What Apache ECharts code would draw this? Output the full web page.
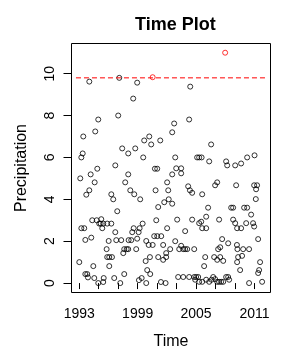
<!DOCTYPE html>
<html>
<head>
<meta charset="utf-8">
<script src="https://cdn.jsdelivr.net/npm/echarts@6/dist/echarts.min.js"></script>
<style>html,body{margin:0;padding:0;background:#fff}#c{width:300px;height:350px}</style>
</head>
<body>
<div id="c"></div>
<script>
// Time (decimal year) and precipitation values
const years = [
1994.03,1997.11,1998.95,2000.54,1998.54,1997.00,1994.95,1994.64,1993.41,2000.19,
1999.67,2001.32,2000.39,1997.41,1998.75,1998.03,1993.35,1993.21,1999.57,1994.85,
1996.70,2000.77,2001.01,2007.99,2004.40,2004.29,2002.75,2002.55,2006.55,2002.86,
2005.11,2005.32,2005.57,2006.35,2008.09,2008.20,2009.02,2009.63,2010.25,2011.01,
2002.96,2003.47,1994.17,1993.10,1998.03,1994.58,1997.72,2002.03,1994.03,1993.72,
1998.24,1998.65,1999.26,2000.84,2002.14,1996.29,1996.49,2002.19,2001.73,2001.11,
1996.90,1994.33,1994.79,1995.26,1995.05,1995.20,1995.46,1995.87,1996.29,1995.36,
1993.21,1993.51,2000.91,1999.51,1998.59,1999.20,1998.44,1999.10,2002.03,1996.70,
1993.62,1994.23,1996.02,1996.80,1997.31,1998.07,1998.34,1998.95,2000.70,2001.01,
2001.42,1999.88,2000.13,2000.54,2001.62,1995.81,1997.62,1997.87,1998.03,1998.85,
1997.52,2002.34,1995.87,1996.08,1996.36,1999.82,2000.26,2001.11,2001.62,2001.93,
1993.00,1994.44,1996.08,1999.98,1993.62,1993.82,1993.89,1994.54,1995.51,1996.59,
1997.62,1999.41,1999.13,2000.29,1994.95,1995.46,1997.21,1999.88,2001.39,2001.87,
2003.47,2002.55,2004.19,2004.37,2004.60,2005.63,2006.96,2007.17,2009.12,2010.97,
2011.27,2011.17,2011.14,2002.55,2006.24,2008.61,2008.81,2009.94,2010.25,2003.06,
2004.60,2007.37,2010.66,2006.04,2005.32,2005.53,2006.04,2005.63,2008.81,2009.02,
2009.22,2009.63,2010.15,2010.86,2010.97,2003.88,2007.68,2008.30,2011.38,2002.86,
2003.27,2003.47,2003.68,2003.88,2004.09,2004.81,2007.27,2007.48,2009.20,2009.25,
2009.84,2010.45,2001.93,2005.94,2006.86,2007.17,2007.48,2007.79,2005.83,2009.32,
2009.73,2009.22,2011.58,2009.53,2011.38,2011.48,2003.16,2003.68,2004.29,2004.81,
2005.01,2005.22,2004.91,2005.32,2005.63,2006.04,2006.35,2006.59,2006.76,2007.17,
2007.37,2007.58,2007.79,2006.96,2008.09,2008.30,2008.40,2010.45,2011.79
];
const precip = [
9.62,9.80,9.57,9.83,8.81,8.00,7.81,7.24,7.00,7.00,
6.81,6.81,6.62,6.43,6.43,6.19,6.19,6.00,6.00,5.46,
5.62,5.46,5.46,11.00,9.38,7.81,7.62,7.20,6.62,6.00,
6.00,6.00,6.00,5.81,5.81,5.62,5.62,5.71,6.00,6.10,
5.48,5.48,5.19,5.00,5.19,4.81,4.81,4.81,4.43,4.22,
4.43,4.24,4.00,4.43,4.43,4.24,4.00,4.00,3.86,3.63,
3.43,3.00,3.00,3.05,2.84,2.84,2.84,2.84,2.84,2.62,
2.62,2.62,3.00,2.84,2.62,2.62,2.43,2.43,2.62,2.43,
2.06,2.17,2.01,2.05,2.05,2.05,2.05,2.12,2.24,2.24,
2.24,2.01,1.82,1.82,1.82,1.62,1.62,1.62,1.62,1.62,
1.43,1.62,1.24,1.24,1.24,1.05,1.24,1.24,1.11,1.24,
1.00,0.81,0.81,0.62,0.43,0.43,0.27,0.24,0.24,0.24,
0.43,0.24,0.14,0.43,0.00,0.05,0.00,0.00,0.05,0.00,
5.24,5.19,4.62,4.43,4.31,4.24,4.67,4.81,4.67,4.67,
4.67,4.48,4.01,3.79,3.60,3.60,3.60,3.60,3.60,3.03,
3.03,3.03,3.27,3.17,2.86,2.93,2.62,2.62,3.03,2.86,
2.62,2.62,2.86,2.86,2.70,2.48,2.10,1.90,2.10,2.00,
1.62,1.78,1.62,1.62,1.62,1.62,1.62,1.71,1.82,1.62,
1.62,1.62,1.43,1.24,1.24,1.11,1.24,1.06,0.81,1.24,
1.30,1.00,1.00,0.62,0.48,0.62,0.29,0.29,0.29,0.29,
0.29,0.29,0.16,0.06,0.06,0.16,0.06,0.16,0.29,0.06,
0.06,0.06,0.06,0.19,0.29,0.29,0.16,0.00,0.06
];
const threshold = 9.8;
const thresholdSpan = [1992.66, 2012.24];
const xTickValues = [1993,1995,1997,1999,2001,2003,2005,2007,2009,2011];
const xLabelValues = [1993,1999,2005,2011];
const yTickValues = [0,2,4,6,8,10];

const X_MIN = 1992.2, X_MAX = 2012.65, Y_MIN = -0.45, Y_MAX = 11.44;

const below = [], above = [];
years.forEach((y, i) => {
  (precip[i] > threshold ? above : below).push([y, precip[i]]);
});

const FONT = '"Liberation Sans", Arial, sans-serif';
const chart = echarts.init(document.getElementById('c'), null, {renderer: 'canvas'});
chart.setOption({
  animation: false,
  backgroundColor: '#fff',
  title: {
    text: 'Time Plot',
    left: 130, top: 11,
    textStyle: {fontFamily: FONT, fontSize: 18, fontWeight: 'bold', color: '#000'}
  },
  grid: {left: 71.5, top: 43.5, right: 29.5, bottom: 57.5, show: true, borderColor: '#000', borderWidth: 1, backgroundColor: 'transparent'},
  xAxis: {
    type: 'value', min: X_MIN, max: X_MAX,
    axisLine: {show: false},
    axisTick: {show: true, length: 6, customValues: xTickValues, lineStyle: {color: '#000', width: 1}},
    axisLabel: {show: false},
    splitLine: {show: false}
  },
  yAxis: {
    type: 'value', min: Y_MIN, max: Y_MAX,
    name: 'Precipitation', nameLocation: 'middle', nameGap: 42,
    nameTextStyle: {fontFamily: FONT, fontSize: 16, color: '#000'},
    axisLine: {show: false},
    axisTick: {show: true, length: 8, customValues: yTickValues, lineStyle: {color: '#000', width: 1}},
    axisLabel: {show: false},
    splitLine: {show: false}
  },
  series: [
    {
      type: 'line', data: thresholdSpan.map(x => [x, threshold]),
      symbol: 'none', silent: true,
      lineStyle: {color: '#FF0000', width: 1, type: [5, 3]}
    },
    {
      type: 'scatter', data: below, symbol: 'circle', symbolSize: 5,
      itemStyle: {color: 'rgba(0,0,0,0)', borderColor: '#000', borderWidth: 1}
    },
    {
      type: 'scatter', data: above, symbol: 'circle', symbolSize: 5,
      itemStyle: {color: 'rgba(0,0,0,0)', borderColor: '#FF0000', borderWidth: 1}
    }
  ]
});

// Tick labels and x title placed through the chart's own scales (R style layout)
const txt = (x, y, s, rot, size) => ({
  type: 'text', x, y, rotation: rot, silent: true,
  style: {text: s, fontFamily: FONT, fontSize: size, fill: '#000', align: 'center', verticalAlign: 'middle'}
});
const g = [];
yTickValues.forEach(v => {
  const p = chart.convertToPixel({gridIndex: 0}, [X_MIN, v]);
  g.push(txt(p[0] - 21.5, p[1], String(v), Math.PI / 2, 14));
});
xLabelValues.forEach(v => {
  const p = chart.convertToPixel({gridIndex: 0}, [v, Y_MIN]);
  g.push(txt(p[0], p[1] + 21.5, String(v), 0, 14));
});
const mid = chart.convertToPixel({gridIndex: 0}, [(X_MIN + X_MAX) / 2, Y_MIN]);
g.push(txt(mid[0], mid[1] + 49, 'Time', 0, 16));
chart.setOption({graphic: g});
</script>
</body>
</html>
